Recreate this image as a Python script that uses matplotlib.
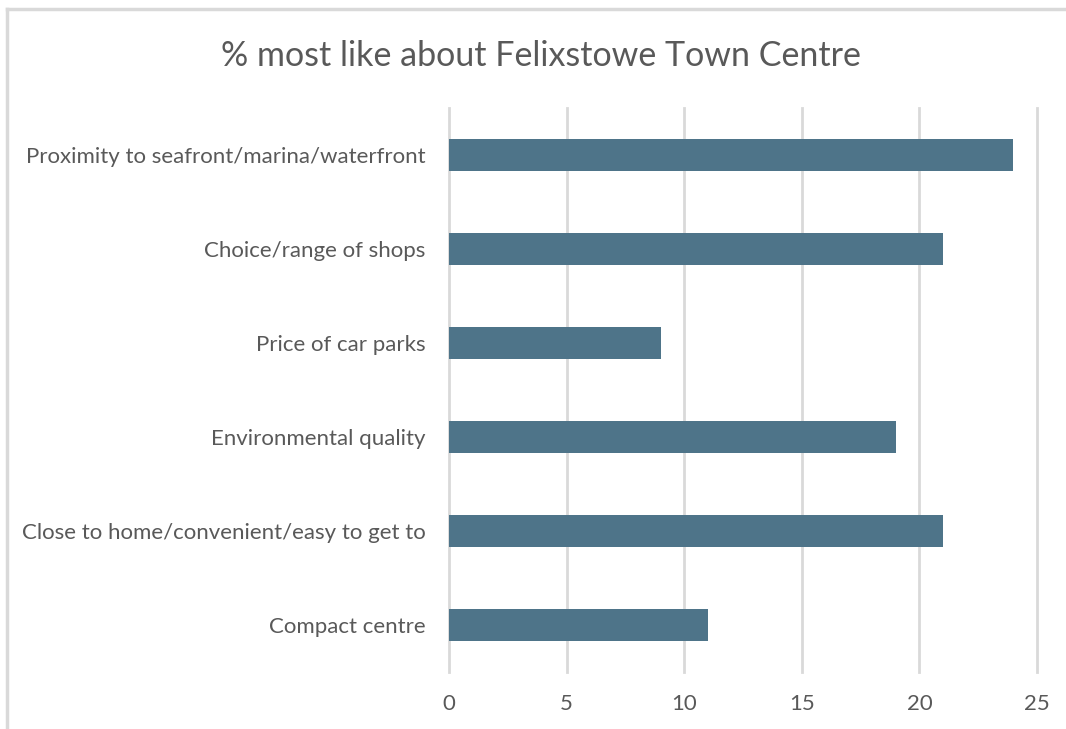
import matplotlib
matplotlib.use('Agg')
import matplotlib.pyplot as plt
from matplotlib.lines import Line2D

# 데이터
categories = [
    "Proximity to seafront/marina/waterfront",
    "Choice/range of shops",
    "Price of car parks",
    "Environmental quality",
    "Close to home/convenient/easy to get to",
    "Compact centre",
]
values = [24, 21, 9, 19, 21, 11]
xticks = [0, 5, 10, 15, 20, 25]

plt.rcParams['font.family'] = ['Lato', 'DejaVu Sans']

fig = plt.figure(figsize=(10.66, 7.29), dpi=100)
ax = fig.add_axes([0.4212, 0.0782, 0.5516, 0.7737])

y = list(range(len(categories)))[::-1]
ax.barh(y, values, height=0.34, color='#4E7489', zorder=3)

ax.set_xlim(0, 25)
ax.set_ylim(-0.5, len(categories) - 0.5)
ax.set_xticks(xticks)
ax.set_yticks(y)
ax.set_yticklabels(categories)
ax.tick_params(axis='both', length=0, labelsize=16, colors='#595959')
ax.tick_params(axis='y', pad=17)
ax.tick_params(axis='x', pad=16)
ax.grid(True, axis='x', color='#d9d9d9', linewidth=2, zorder=0)
for gl in ax.get_xgridlines():
    gl.set_clip_on(False)
for s in ax.spines.values():
    s.set_visible(False)

fig.text(0.507, 0.923, "% most like about Felixstowe Town Centre",
         ha='center', va='center', fontsize=24.5, color='#595959')

# 차트 테두리 (위, 왼쪽)
fig.add_artist(Line2D([7 / 1066, 1], [1 - 9 / 729, 1 - 9 / 729], color='#d9d9d9', linewidth=2.5))
fig.add_artist(Line2D([7 / 1066, 7 / 1066], [0, 1 - 9 / 729], color='#d9d9d9', linewidth=2.5))

fig.savefig('out.png', dpi=100)
